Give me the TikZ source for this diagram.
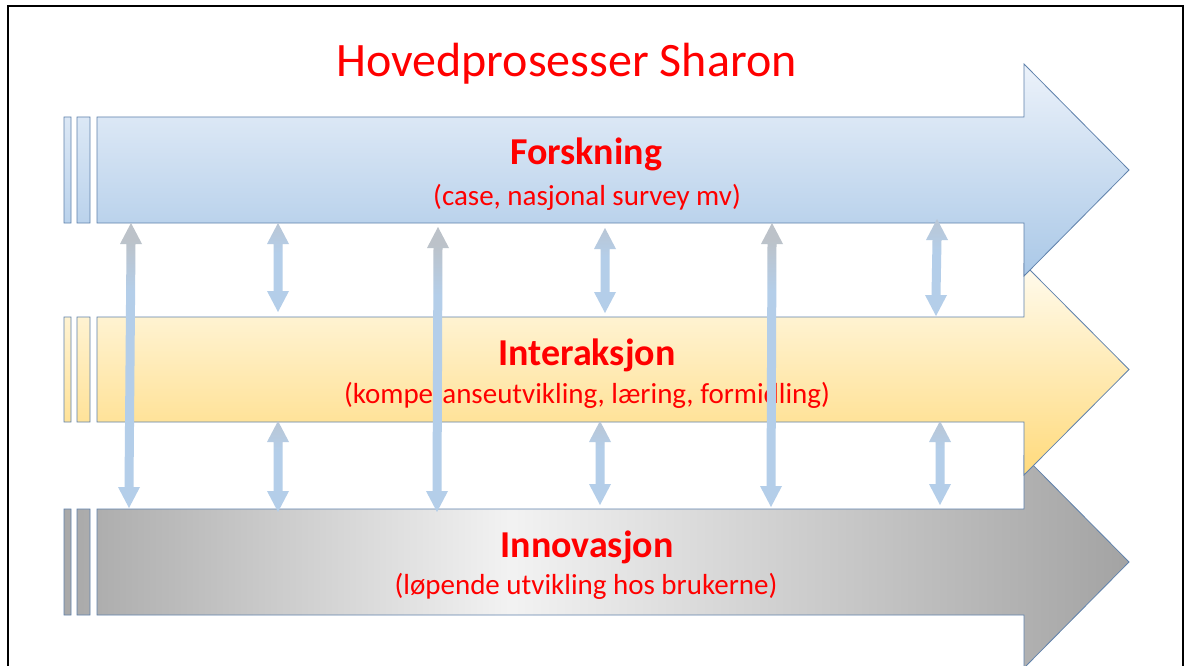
\documentclass[tikz,border=0pt]{standalone}
\usepackage{fontspec}
\setmainfont{Carlito}
\usetikzlibrary{calc}
\definecolor{bandedge}{RGB}{96,130,172}
\definecolor{blueTop}{RGB}{236,242,250}
\definecolor{blueBot}{RGB}{170,200,231}
\definecolor{yelTop}{RGB}{255,251,238}
\definecolor{yelBot}{RGB}{255,218,124}
\definecolor{txtred}{RGB}{255,0,0}
\pgfdeclarehorizontalshading{grayband}{100bp}{rgb(0bp)=(0.66,0.66,0.66); rgb(25bp)=(0.66,0.66,0.66); rgb(46bp)=(0.95,0.95,0.95); rgb(75bp)=(0.64,0.64,0.64); rgb(100bp)=(0.64,0.64,0.64)}
\pgfdeclareverticalshading{longshade}{100bp}{rgb(0bp)=(0.706,0.808,0.914); rgb(25bp)=(0.706,0.808,0.914); rgb(63bp)=(0.706,0.808,0.914); rgb(72bp)=(0.737,0.761,0.788); rgb(100bp)=(0.737,0.761,0.788)}
\pgfdeclareverticalshading{shortshade}{100bp}{rgb(0bp)=(0.706,0.808,0.914); rgb(25bp)=(0.706,0.808,0.914); rgb(58bp)=(0.706,0.808,0.914); rgb(75bp)=(0.725,0.776,0.835); rgb(100bp)=(0.725,0.776,0.835)}
\tikzset{
  band/.style={draw=bandedge, line width=0.8pt, line join=miter},
  blueband/.style={band, top color=blueTop, bottom color=blueBot},
  yelband/.style={band, top color=yelTop, bottom color=yelBot},
  grayfill/.style={band, shading=grayband},
  longarr/.style={shading=longshade},
  shortarr/.style={shading=shortshade},
  titletext/.style={anchor=base, text=txtred, inner sep=0pt, font=\fontsize{48}{56}\selectfont},
  headtext/.style={anchor=base, text=txtred, inner sep=0pt, font=\fontsize{38}{44}\selectfont\bfseries},
  subtext/.style={anchor=base, text=txtred, inner sep=0pt, font=\fontsize{29}{34}\selectfont}
}
\newcommand\vdarrow[3]{%
  \path[#1] (#2) -- ($(#2)+(11,21)$) -- ($(#2)+(4.5,21)$) -- ($(#3)+(4.5,-21)$) -- ($(#3)+(11,-21)$) -- (#3) -- ($(#3)+(-11,-21)$) -- ($(#3)+(-4.5,-21)$) -- ($(#2)+(-4.5,21)$) -- ($(#2)+(-11,21)$) -- cycle;}
\begin{document}
\begin{tikzpicture}[x=1pt,y=-1pt]
\useasboundingbox (0,0) rectangle (1185,666);
\fill[white] (0,0) rectangle (1185,666);
% frame
\draw[line width=2pt] (8,666) -- (8,6) -- (1183,6) -- (1183,666);
% bands (bottom first)
\path[grayfill] (64,509) rectangle (71,615) (77,509) rectangle (90,615)
  (97,509) -- (1024,509) -- (1024,456) -- (1129,562) -- (1024,668) -- (1024,615) -- (97,615) -- cycle;
\path[yelband] (64,317) rectangle (71,422) (77,317) rectangle (90,422)
  (97,317) -- (1024,317) -- (1024,264) -- (1129,369.5) -- (1024,475) -- (1024,422) -- (97,422) -- cycle;
\path[blueband] (64,117) rectangle (71,223) (77,117) rectangle (90,223)
  (97,117) -- (1024,117) -- (1024,64) -- (1129,170) -- (1024,276) -- (1024,223) -- (97,223) -- cycle;
% texts
\node[titletext] (title) at (566.5,77) {Hovedprosesser Sharon};
\node[headtext] (forsk) at (586,164) {Forskning};
\node[subtext] (forsksub) at (587,205) {(case, nasjonal survey mv)};
\node[headtext] (inter) at (587,365) {Interaksjon};
\node[subtext] (intersub) at (587,403) {(kompetanseutvikling, læring, formidling)};
\node[headtext] (innov) at (587,557) {Innovasjon};
\node[subtext] (innovsub) at (586,594) {(løpende utvikling hos brukerne)};
% connector end points
\coordinate (a1t) at (278,223); \coordinate (a1b) at (278,312);
\coordinate (a2t) at (605,228); \coordinate (a2b) at (605,313);
\coordinate (a3t) at (937,219); \coordinate (a3b) at (936,316);
\coordinate (b1t) at (278,421); \coordinate (b1b) at (278,512);
\coordinate (b2t) at (600,421); \coordinate (b2b) at (600,505);
\coordinate (b3t) at (940,421); \coordinate (b3b) at (940,505);
\coordinate (l1t) at (131,223); \coordinate (l1b) at (129,508);
\coordinate (l2t) at (438,227); \coordinate (l2b) at (437,512);
\coordinate (l3t) at (772,223); \coordinate (l3b) at (771,507);
% vertical double arrows
\vdarrow{shortarr}{a1t}{a1b}
\vdarrow{shortarr}{a2t}{a2b}
\vdarrow{shortarr}{a3t}{a3b}
\vdarrow{shortarr}{b1t}{b1b}
\vdarrow{shortarr}{b2t}{b2b}
\vdarrow{shortarr}{b3t}{b3b}
\vdarrow{longarr}{l1t}{l1b}
\vdarrow{longarr}{l2t}{l2b}
\vdarrow{longarr}{l3t}{l3b}
\end{tikzpicture}
\end{document}
